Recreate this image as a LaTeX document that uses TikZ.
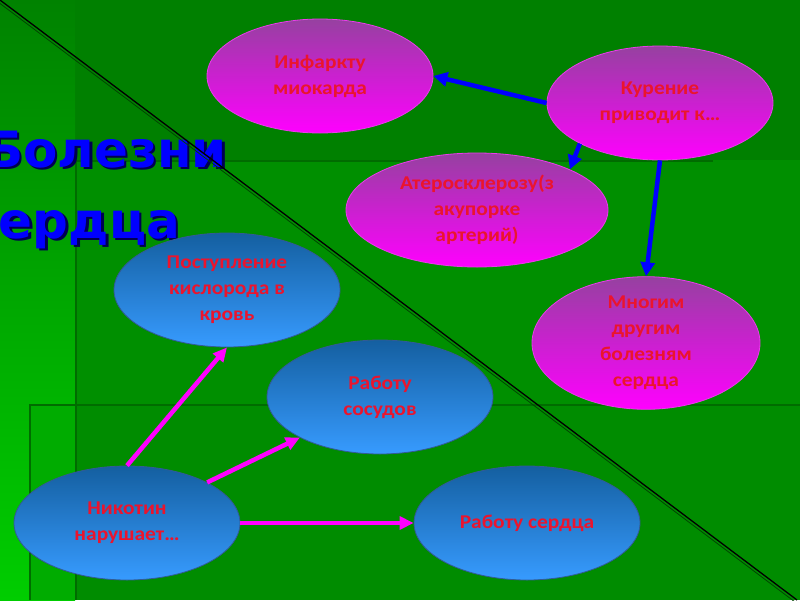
\documentclass[tikz,border=0pt]{standalone}
\usepackage{fontspec}
\usetikzlibrary{shapes.geometric,arrows.meta}
\newfontfamily\nodefont{Carlito}[FakeStretch=1.1]
\newfontfamily\titlefont{DejaVu Sans}
\definecolor{bgbase}{RGB}{0,128,0}
\definecolor{bgmid}{RGB}{0,143,0}
\definecolor{bglow}{RGB}{0,140,0}
\definecolor{bgleft}{RGB}{0,172,0}
\definecolor{striptop}{RGB}{0,130,0}
\definecolor{stripbot}{RGB}{0,205,0}
\definecolor{bgshadow}{RGB}{0,108,0}
\definecolor{txtred}{RGB}{235,20,45}
\definecolor{magtop}{RGB}{150,65,160}
\definecolor{magbot}{RGB}{255,0,255}
\definecolor{magborder}{RGB}{235,60,235}
\definecolor{blutop}{RGB}{20,95,160}
\definecolor{blubot}{RGB}{55,155,255}
\definecolor{bluborder}{RGB}{50,90,150}
\definecolor{arrblue}{RGB}{0,0,255}
\definecolor{arrmag}{RGB}{255,0,255}
\definecolor{titleblue}{RGB}{0,0,255}
\definecolor{titleshadow}{RGB}{0,0,80}
\definecolor{diaggreen}{RGB}{0,70,0}
\begin{document}
\begin{tikzpicture}[x=1pt,y=-1pt,
  ell/.style={ellipse, inner sep=0pt, minimum width=226pt, minimum height=114pt,
    align=center, text=txtred, line width=0.8pt,
    font=\nodefont\bfseries\fontsize{19.5}{26}\selectfont},
  mag/.style={ell, draw=magborder, top color=magtop, bottom color=magbot},
  blu/.style={ell, draw=bluborder, top color=blutop, bottom color=blubot},
  barrow/.style={draw=arrblue, line width=4.5pt, -{Triangle[length=14pt,width=14pt]}},
  marrow/.style={draw=arrmag, line width=4.5pt, -{Triangle[length=14pt,width=13pt]}},
  shadowline/.style={draw=bgshadow, line width=2pt},
  titletext/.style={anchor=base east, inner sep=0pt,
    font=\titlefont\bfseries\fontsize{50}{50}\selectfont}
]
\useasboundingbox (0,0) rectangle (800,600);
\clip (0,0) rectangle (800,600);
% background
\fill[bgbase] (0,0) rectangle (800,600);
\shade[top color=striptop, bottom color=stripbot] (0,0) rectangle (75,600);
\fill[bgmid] (75,160) rectangle (800,404);
\fill[bglow] (75,404) rectangle (800,600);
\fill[bgleft] (29,404) rectangle (75,600);
\draw[shadowline] (75,161) -- (713,161);
\draw[shadowline] (76,161) -- (76,600);
\draw[shadowline] (29,405) -- (800,405);
\draw[shadowline] (30,405) -- (30,600);
% title
\node[titletext, text=titleshadow] (t1s) at (229.5,169.5) {Болезни};
\node[titletext, text=titleblue] (t1) at (227,167) {Болезни};
\node[titletext, text=titleshadow] (t2s) at (182.5,240.5) {сердца};
\node[titletext, text=titleblue] (t2) at (180,238) {сердца};
% diagonal
\draw[diaggreen, line width=0.8pt] (0,3.5) -- (797,603.5);
\draw[black, line width=1.3pt] (0,0) -- (797,600);
% nodes
\node[mag] (inf) at (320,76) {Инфаркту\\миокарда};
\node[mag] (kur) at (660,103) {Курение\\приводит к…};
\node[mag, minimum width=262pt] (ath) at (477,210) {Атеросклерозу(з\\акупорке\\артерий)};
\node[mag, minimum width=228pt] (mng) at (646,343) {Многим\\другим\\болезням\\сердца};
\node[blu] (pos) at (227,290) {Поступление\\кислорода в\\кровь};
\node[blu] (sos) at (380,397) {Работу\\сосудов};
\node[blu] (nik) at (127,523) {Никотин\\нарушает…};
\node[blu] (ser) at (527,523) {Работу сердца};
% arrows
\draw[barrow] (kur.west) -- (inf.east);
\draw[barrow] (kur.south west) -- (ath.north east);
\draw[barrow] (kur.south) -- (mng.north);
\draw[marrow] (nik.north) -- (pos.south);
\draw[marrow] (nik.north east) -- (sos.south west);
\draw[marrow] (nik.east) -- (ser.west);
\end{tikzpicture}
\end{document}
